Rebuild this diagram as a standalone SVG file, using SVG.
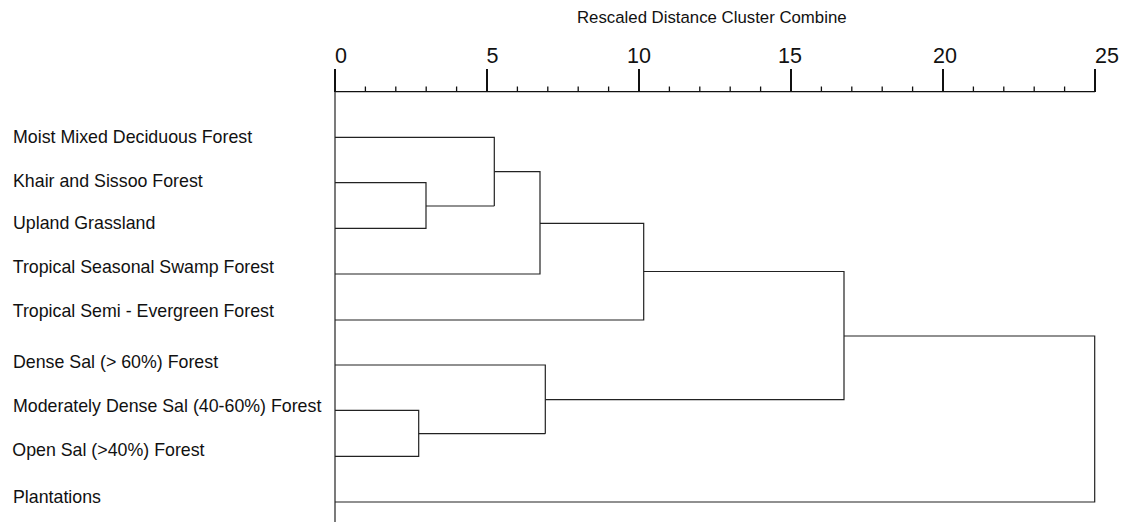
<svg xmlns="http://www.w3.org/2000/svg" width="1124" height="522" viewBox="0 0 1124 522">
  <style>
    .lbl { font-family: "Liberation Sans", Arial, sans-serif; font-size: 17.8px; fill: #111; }
    .ttl { font-family: "Liberation Sans", Arial, sans-serif; font-size: 16.8px; fill: #111; }
    .num { font-family: "Liberation Sans", Arial, sans-serif; font-size: 21.5px; fill: #111; }
    .ln { fill: none; stroke: #222; stroke-width: 1.2; }
    .major { stroke: #111; stroke-width: 2; }
    .minor { stroke: #111; stroke-width: 1.3; }
  </style>
  <rect width="1124" height="522" fill="#fff"/>

  <!-- distance scale -->
  <g id="axis">
    <text class="ttl" x="577" y="23">Rescaled Distance Cluster Combine</text>
    <text class="num" x="335" y="62.5">0</text>
    <text class="num" x="486.5" y="62.5">5</text>
    <text class="num" x="627" y="62.5">10</text>
    <text class="num" x="778" y="62.5">15</text>
    <text class="num" x="933" y="62.5">20</text>
    <text class="num" x="1095" y="62.5">25</text>
    <line class="minor" x1="335" y1="91.7" x2="1095" y2="91.7"/>
    <g class="major">
      <line x1="335" y1="69" x2="335" y2="92"/>
      <line x1="487" y1="69" x2="487" y2="92"/>
      <line x1="639" y1="69" x2="639" y2="92"/>
      <line x1="791" y1="69" x2="791" y2="92"/>
      <line x1="943" y1="69" x2="943" y2="92"/>
      <line x1="1095" y1="69" x2="1095" y2="92"/>
    </g>
    <g class="minor">
      <line x1="365.4" y1="86.5" x2="365.4" y2="92"/>
      <line x1="395.8" y1="86.5" x2="395.8" y2="92"/>
      <line x1="426.2" y1="86.5" x2="426.2" y2="92"/>
      <line x1="456.6" y1="86.5" x2="456.6" y2="92"/>
      <line x1="517.4" y1="86.5" x2="517.4" y2="92"/>
      <line x1="547.8" y1="86.5" x2="547.8" y2="92"/>
      <line x1="578.2" y1="86.5" x2="578.2" y2="92"/>
      <line x1="608.6" y1="86.5" x2="608.6" y2="92"/>
      <line x1="669.4" y1="86.5" x2="669.4" y2="92"/>
      <line x1="699.8" y1="86.5" x2="699.8" y2="92"/>
      <line x1="730.2" y1="86.5" x2="730.2" y2="92"/>
      <line x1="760.6" y1="86.5" x2="760.6" y2="92"/>
      <line x1="821.4" y1="86.5" x2="821.4" y2="92"/>
      <line x1="851.8" y1="86.5" x2="851.8" y2="92"/>
      <line x1="882.2" y1="86.5" x2="882.2" y2="92"/>
      <line x1="912.6" y1="86.5" x2="912.6" y2="92"/>
      <line x1="973.4" y1="86.5" x2="973.4" y2="92"/>
      <line x1="1003.8" y1="86.5" x2="1003.8" y2="92"/>
      <line x1="1034.2" y1="86.5" x2="1034.2" y2="92"/>
      <line x1="1064.6" y1="86.5" x2="1064.6" y2="92"/>
    </g>
    <line class="ln" x1="335" y1="92" x2="335" y2="522"/>
  </g>

  <!-- leaves -->
  <g id="leaf-moist-mixed-deciduous"><text class="lbl" x="13" y="142.7">Moist Mixed Deciduous Forest</text></g>
  <g id="leaf-khair-sissoo"><text class="lbl" x="13" y="186.7">Khair and Sissoo Forest</text></g>
  <g id="leaf-upland-grassland"><text class="lbl" x="13" y="229">Upland Grassland</text></g>
  <g id="leaf-tropical-seasonal-swamp"><text class="lbl" x="12.7" y="272.7">Tropical Seasonal Swamp Forest</text></g>
  <g id="leaf-tropical-semi-evergreen"><text class="lbl" x="12.7" y="316.7">Tropical Semi - Evergreen Forest</text></g>
  <g id="leaf-dense-sal"><text class="lbl" x="13" y="368.3">Dense Sal (&gt; 60%) Forest</text></g>
  <g id="leaf-moderately-dense-sal"><text class="lbl" x="13" y="412.3">Moderately Dense Sal (40-60%) Forest</text></g>
  <g id="leaf-open-sal"><text class="lbl" x="12.3" y="456">Open Sal (&gt;40%) Forest</text></g>
  <g id="leaf-plantations"><text class="lbl" x="13" y="502.7">Plantations</text></g>

  <!-- dendrogram links -->
  <g id="connectors" class="ln">
    <path d="M335 182.7 H426 V228.3 H335"/>
    <path d="M426 206 H494.3"/>
    <path d="M335 137.3 H494.3 V206"/>
    <path d="M494.3 171.7 H540 V274 H335"/>
    <path d="M540 223.3 H643.7 V320 H335"/>
    <path d="M335 410.3 H418.7 V456.3 H335"/>
    <path d="M418.7 433.7 H545.3"/>
    <path d="M335 365 H545.3 V433.7"/>
    <path d="M643.7 271.5 H844 V399.7 H545.3"/>
    <path d="M844 336 H1094.7 V502 H335"/>
  </g>
</svg>
